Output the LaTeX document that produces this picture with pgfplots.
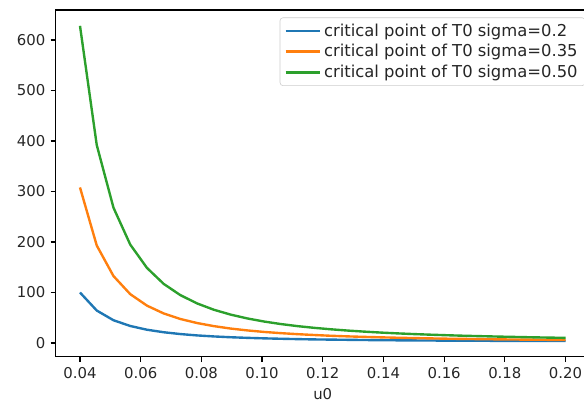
\documentclass[border=0pt]{standalone}
\usepackage{fontspec}
\setmainfont{DejaVu Sans}
\usepackage{pgfplots}
\usepackage{pgfplotstable}
\pgfplotsset{compat=1.18}

\definecolor{mplblue}{HTML}{1F77B4}
\definecolor{mplorange}{HTML}{FF7F0E}
\definecolor{mplgreen}{HTML}{2CA02C}

% u0, critical point of T0 for sigma = 0.2, 0.35, 0.50
\pgfplotstableread{
u0      s020   s035   s050
0.04000 100.0  308.0  628.0
0.04552  64.3  193.1  392.0
0.05103  45.1  132.6  268.0
0.05655  33.7   96.8  195.0
0.06207  26.3   74.0  148.7
0.06759  21.3   58.5  117.0
0.07310  17.7   47.5   94.7
0.07862  15.0   39.5   78.3
0.08414  13.0   33.4   65.8
0.08966  11.4   28.6   56.2
0.09517  10.2   24.9   48.6
0.10069   9.2   21.9   42.5
0.10621   8.4   19.5   37.5
0.11172   7.7   17.5   33.4
0.11724   7.1   15.8   30.0
0.12276   6.7   14.3   27.1
0.12828   6.3   13.1   24.6
0.13379   5.9   12.1   22.5
0.13931   5.6   11.2   20.6
0.14483   5.3   10.4   19.0
0.15034   5.1    9.7   17.6
0.15586   4.9    9.1   16.4
0.16138   4.7    8.5   15.3
0.16690   4.6    8.1   14.3
0.17241   4.4    7.6   13.5
0.17793   4.3    7.2   12.7
0.18345   4.2    6.9   12.0
0.18897   4.1    6.6   11.3
0.19448   4.0    6.3   10.7
0.20000   3.9    6.0   10.2
}\critdata

\begin{document}
\begin{tikzpicture}
\begin{axis}[
  name=ax,
  width=358.5pt, height=232.8pt, scale only axis,
  xmin=0.032, xmax=0.208,
  ymin=-27.3, ymax=659.4,
  xtick={0.04,0.06,0.08,0.10,0.12,0.14,0.16,0.18,0.20},
  ytick={0,100,200,300,400,500,600},
  scaled x ticks=false,
  xticklabel style={/pgf/number format/.cd, fixed, fixed zerofill, precision=2},
  /pgf/number format/assume math mode=true,
  tick label style={font=\fontsize{10}{12}\selectfont, color=black!85},
  tick align=outside,
  xtick pos=left, ytick pos=left,
  major tick length=3.5pt,
  every tick/.style={black, line width=0.8pt},
  axis line style={line width=0.8pt},
  xlabel={u0},
  xlabel style={font=\fontsize{10}{12}\selectfont, color=black!85},
  legend cell align=left,
  legend image code/.code={\draw[#1, line width=1.6pt] (0pt,0pt) -- (23pt,0pt);},
  legend style={at={(1,1)}, anchor=north east, xshift=-3pt, yshift=-5pt,
    draw=black!20, rounded corners=2pt, fill=white, fill opacity=0.8, text opacity=1,
    font=\fontsize{11}{13}\selectfont, text=black!85,
    inner xsep=3pt, inner ysep=2pt, row sep=0pt},
]
\addplot[mplblue, line width=1.6pt] table[x=u0, y=s020] {\critdata};
\addplot[mplorange, line width=1.6pt] table[x=u0, y=s035] {\critdata};
\addplot[mplgreen, line width=1.6pt] table[x=u0, y=s050] {\critdata};
\legend{critical point of T0 sigma=0.2, critical point of T0 sigma=0.35, critical point of T0 sigma=0.50}
\end{axis}
\pgfresetboundingbox
\path (ax.south west) ++(-37.4pt,-32.3pt) rectangle ++(392pt,271.8pt);
\end{tikzpicture}
\end{document}
